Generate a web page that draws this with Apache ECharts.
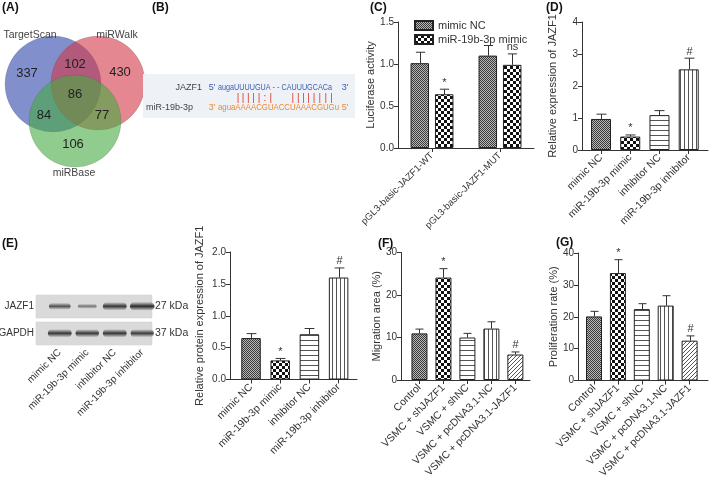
<!DOCTYPE html>
<html><head><meta charset="utf-8">
<script src="https://cdn.jsdelivr.net/npm/echarts@6/dist/echarts.min.js"></script>
<style>html,body{margin:0;padding:0;background:#fff}#c{width:709px;height:478px}</style>
</head><body><div id="c"></div><script>
// ---------------- DATA ----------------
const vennSets = ['TargetScan', 'miRWalk', 'miRBase'];
// order: TargetScan only, miRWalk only, miRBase only, T&W, T&B, W&B, all three
const vennCounts = [337, 430, 106, 102, 84, 77, 86];

const mrnaName = 'JAZF1';
const mirName = 'miR-19b-3p';
const mrnaSeq = ['a','u','g','a','U','U','U','U','G','U','A',' ','-',' ','-',' ','C','A','U','U','U','G','C','A','C','a'];
const mirSeq  = ['a','g','u','a','A','A','A','A','C','G','U','A','C','C','U','A','A','A','C','G','U','G','u'];
// pairing marks, aligned to miRNA positions
const pairMarks = [' ',' ',' ',' ','|','|','|','|','|',':','|',' ',' ',' ','|','|','|','|','|','|','|','|',' '];

const cGroups = ['pGL3-basic-JAZF1-WT', 'pGL3-basic-JAZF1-MUT'];
const cSeriesNames = ['mimic NC', 'miR-19b-3p mimic'];
const cTicks = [0, 0.5, 1.0, 1.5];
const cNC = [1.01, 1.10];
const cNCErr = [1.14, 1.22];
const cMimic = [0.64, 0.99];
const cMimicErr = [0.70, 1.12];
const cNCMarks = ['', ''];
const cMimicMarks = ['*', 'ns'];

const deCats = ['mimic NC', 'miR-19b-3p mimic', 'inhibitor NC', 'miR-19b-3p inhibitor'];
const dTicks = [0, 1, 2, 3, 4];
const dVals = [0.97, 0.42, 1.09, 2.52];
const dErr = [1.12, 0.47, 1.23, 2.87];
const dMarks = ['', '*', '', '#'];

const blotRows = ['JAZF1', 'GAPDH'];
const blotSizes = ['27 kDa', '37 kDa'];
const blotJazf1 = [0.62, 0.30, 0.85, 0.95];
const blotGapdh = [0.85, 0.82, 0.85, 0.80];

const eTicks = [0, 0.5, 1.0, 1.5, 2.0];
const eVals = [0.65, 0.30, 0.71, 1.60];
const eErr = [0.72, 0.33, 0.80, 1.75];
const eMarks = ['', '*', '', '#'];

const fgCats = ['Control', 'VSMC + shJAZF1', 'VSMC + shNC', 'VSMC + pcDNA3.1-NC', 'VSMC + pcDNA3.1-JAZF1'];
const fTicks = [0, 10, 20, 30];
const fVals = [10.97, 24.1, 10.0, 12.1, 6.0];
const fErr = [11.98, 26.2, 10.97, 13.7, 6.6];
const fMarks = ['', '*', '', '', '#'];

const gTicks = [0, 10, 20, 30, 40];
const gVals = [20.1, 33.7, 22.4, 23.5, 12.5];
const gErr = [21.7, 37.9, 24.1, 26.6, 14.0];
const gMarks = ['', '*', '', '', '#'];

// ---------------- STYLE HELPERS ----------------
const F = 'Liberation Sans, Arial, Helvetica, sans-serif';
const INK = '#333';

function pat(type) {
  const c = document.createElement('canvas');
  let w = 4, h = 4;
  if (type === 'hatch') { w = 2; h = 2; }
  if (type === 'check') { w = 6; h = 6; }
  if (type === 'hline') { w = 1; h = 5; }
  if (type === 'vline') { w = 4; h = 1; }
  if (type === 'diag') { w = 4; h = 4; }
  c.width = w; c.height = h;
  const x = c.getContext('2d');
  x.fillStyle = '#fff'; x.fillRect(0, 0, w, h);
  if (type === 'hatch') {
    x.fillStyle = '#b8b8b8'; x.fillRect(0, 0, 2, 2);
    x.fillStyle = '#3a3a3a'; x.fillRect(0, 0, 1, 1); x.fillRect(1, 1, 1, 1);
  } else if (type === 'check') {
    x.fillStyle = '#111'; x.fillRect(0, 0, 3, 3); x.fillRect(3, 3, 3, 3);
  } else if (type === 'hline') {
    x.fillStyle = '#555'; x.fillRect(0, 0, 1, 1);
  } else if (type === 'vline') {
    x.fillStyle = '#555'; x.fillRect(0, 0, 1, 1);
  } else if (type === 'diag') {
    x.fillStyle = '#555';
    x.fillRect(3, 0, 1, 1); x.fillRect(2, 1, 1, 1); x.fillRect(1, 2, 1, 1); x.fillRect(0, 3, 1, 1);
  }
  return { image: c, repeat: 'repeat' };
}
const P = { hatch: pat('hatch'), check: pat('check'), hline: pat('hline'), vline: pat('vline'), diag: pat('diag') };
const dePats = [P.hatch, P.check, P.hline, P.vline];
const fgPats = [P.hatch, P.check, P.hline, P.vline, P.diag];

function yAx(gi, ticks, name, gap, dec) {
  return {
    type: 'value', gridIndex: gi, min: ticks[0], max: ticks[ticks.length - 1], interval: ticks[1] - ticks[0],
    name: name, nameLocation: 'middle', nameGap: gap, nameRotate: 90,
    nameTextStyle: { fontSize: 11, color: INK, fontFamily: F },
    axisLine: { show: true, onZero: false, lineStyle: { color: INK, width: 1 } },
    axisTick: { show: true, length: 4, lineStyle: { color: INK } },
    axisLabel: { fontSize: 10, color: INK, margin: 4, fontFamily: F, formatter: v => v.toFixed(dec) },
    splitLine: { show: false }
  };
}
function xAxVal(gi, cats, min, max, fs) {
  const idx = cats.map((_, i) => i);
  return {
    type: 'value', gridIndex: gi, min: min, max: max,
    axisLine: { show: true, onZero: false, lineStyle: { color: INK, width: 1 } },
    axisTick: { show: true, length: 4, customValues: idx, lineStyle: { color: INK } },
    axisLabel: { customValues: idx, formatter: v => cats[Math.round(v)], rotate: 45, fontSize: fs, color: INK, margin: 6, fontFamily: F },
    splitLine: { show: false }
  };
}
function barSeries(gi, vals, pats, bw) {
  return {
    type: 'bar', xAxisIndex: gi, yAxisIndex: gi, barWidth: bw, z: 2,
    data: vals.map((v, i) => ({ value: [i, v], itemStyle: { color: pats[i] } })),
    itemStyle: { borderColor: '#222', borderWidth: 1 }
  };
}
function errSeries(gi, vals, errs, marks, bw, offset) {
  return {
    type: 'custom', xAxisIndex: gi, yAxisIndex: gi, z: 3, silent: true,
    data: vals.map((v, i) => [i, v, errs[i]]),
    renderItem: function (params, api) {
      const top = api.coord([api.value(0), api.value(1)]);
      const e = api.coord([api.value(0), api.value(2)]);
      const cx = Math.round(top[0] + offset) + 0.5;
      const cap = bw / 4;
      const ch = [
        { type: 'line', shape: { x1: cx, y1: top[1], x2: cx, y2: e[1] }, style: { stroke: INK, lineWidth: 1 } },
        { type: 'line', shape: { x1: cx - cap, y1: e[1], x2: cx + cap, y2: e[1] }, style: { stroke: INK, lineWidth: 1 } }
      ];
      const m = marks[params.dataIndex];
      if (m) ch.push({ type: 'text', style: { text: m, x: cx, y: e[1] - 1, align: 'center', verticalAlign: 'bottom', font: '11px ' + F, fill: INK } });
      return { type: 'group', children: ch };
    }
  };
}

// ---------------- GRAPHIC (Venn, sequence, blot boxes, panel labels) ----------------
const graphics = [];
function txt(x, y, s, size, opt, extra) {
  graphics.push(Object.assign({ type: 'text', x: x, y: y, style: Object.assign({ text: s, font: size + 'px ' + F, fill: INK, align: 'left', verticalAlign: 'middle' }, opt || {}) }, extra || {}));
}
// Panel letters
[['(A)', 2, 8], ['(B)', 152, 8], ['(C)', 370, 8], ['(D)', 546, 8], ['(E)', 2, 244], ['(F)', 378, 244], ['(G)', 556, 243]]
  .forEach(p => txt(p[1], p[2], p[0], 12, { font: 'bold 12px ' + F, fill: '#111' }));

// Venn
const vennGeo = [
  { cx: 53, cy: 84, r: 48, fill: 'rgba(45,70,170,0.60)' },
  { cx: 98, cy: 83, r: 47, fill: 'rgba(210,55,70,0.60)' },
  { cx: 75, cy: 121, r: 46, fill: 'rgba(70,170,65,0.60)' }
];
vennGeo.forEach(g => graphics.push({ type: 'circle', shape: { cx: g.cx, cy: g.cy, r: g.r }, style: { fill: g.fill, stroke: 'rgba(60,60,60,0.25)', lineWidth: 0.6 } }));
const vennPos = [[27, 73], [120, 72], [73, 144], [75, 64], [44, 115], [102, 115], [75, 94]];
vennCounts.forEach((v, i) => txt(vennPos[i][0], vennPos[i][1], String(v), 13, { align: 'center', fill: '#222' }));
const vennLabPos = [[30, 35], [117, 35], [74, 173]];
vennSets.forEach((s, i) => txt(vennLabPos[i][0], vennLabPos[i][1], s, 10.5, { align: 'center', fill: '#444' }));

// Sequence panel (B)
graphics.push({ type: 'rect', shape: { x: 143, y: 74, width: 212, height: 44 }, style: { fill: '#eef1f5' } });
txt(202, 88, mrnaName, 9, { align: 'right', fill: '#444' });
txt(193, 108, mirName, 9, { align: 'right', fill: '#444' });
txt(212, 88, "5'", 9, { align: 'center', fill: '#3b5fb3' });
txt(212, 108, "3'", 9, { align: 'center', fill: '#ee8a2b' });
const mctx = document.createElement('canvas').getContext('2d');
function layoutLine(chars, size, x0, targetW) {
  mctx.font = size + 'px Liberation Sans';
  const widths = chars.map(c => mctx.measureText(c).width);
  const total = widths.reduce((a, b) => a + b, 0);
  const k = targetW / total;
  let x = x0; const centers = [];
  widths.forEach(w => { centers.push(x + w * k / 2); x += w * k; });
  return { k: k, centers: centers };
}
const SEQ_FS = 9;
const topL = layoutLine(mrnaSeq, SEQ_FS, 218, 114);
const botL = layoutLine(mirSeq, SEQ_FS, 218, 121);
mrnaSeq.forEach((ch, i) => { if (ch !== ' ') txt(topL.centers[i], 88, ch, SEQ_FS, { align: 'center', fill: '#3b5fb3' }, { scaleX: topL.k }); });
mirSeq.forEach((ch, i) => txt(botL.centers[i], 108, ch, SEQ_FS, { align: 'center', fill: '#ee8a2b' }, { scaleX: botL.k }));
pairMarks.forEach((ch, i) => { if (ch !== ' ') txt(botL.centers[i], 98, ch, 10, { align: 'center', fill: '#e03a2f' }); });
txt(345, 88, "3'", 9, { align: 'center', fill: '#3b5fb3' });
txt(345, 108, "5'", 9, { align: 'center', fill: '#ee8a2b' });

// Blot boxes for E
graphics.push({ type: 'rect', shape: { x: 36, y: 295, width: 116, height: 23 }, style: { fill: '#dadada', stroke: '#cccccc', lineWidth: 0.5 } });
graphics.push({ type: 'rect', shape: { x: 36, y: 322, width: 116, height: 23 }, style: { fill: '#dadada', stroke: '#cccccc', lineWidth: 0.5 } });
blotRows.forEach((s, i) => txt(34, 306.5 + i * 27, s, 10, { align: 'right' }));
blotSizes.forEach((s, i) => txt(155, 306.5 + i * 27, s, 10.5, { align: 'left' }));

// ---------------- OPTION ----------------
const option = {
  animation: false,
  backgroundColor: '#fff',
  textStyle: { fontFamily: F },
  grid: [
    { left: 398, top: 22, width: 136, height: 126, outerBoundsMode: 'none' },   // 0: C
    { left: 582, top: 22, width: 126, height: 128, outerBoundsMode: 'none' },   // 1: D
    { left: 230, top: 252, width: 127, height: 127.5, outerBoundsMode: 'none' },// 2: E bars
    { left: 401, top: 252.5, width: 129, height: 127.5, outerBoundsMode: 'none' }, // 3: F
    { left: 578, top: 253, width: 130, height: 127.5, outerBoundsMode: 'none' },  // 4: G
    { left: 46, top: 295, width: 110, height: 50, outerBoundsMode: 'none' }     // 5: blot
  ],
  legend: {
    data: cSeriesNames, left: 409, top: 15, orient: 'vertical', itemWidth: 18, itemGap: 3, itemHeight: 9,
    icon: 'rect', textStyle: { fontSize: 11, color: INK, fontFamily: F }, selectedMode: false
  },
  xAxis: [
    {
      type: 'category', gridIndex: 0, data: cGroups,
      axisLine: { show: true, lineStyle: { color: INK } },
      axisTick: { show: true, alignWithLabel: true, length: 4, lineStyle: { color: INK } },
      axisLabel: { rotate: 45, fontSize: 9.5, color: INK, margin: 6, fontFamily: F, interval: 0 }
    },
    xAxVal(1, deCats, -0.65, 3.66, 10.5),
    xAxVal(2, deCats, -0.72, 3.63, 10.5),
    xAxVal(3, fgCats, -0.77, 4.61, 10.5),
    xAxVal(4, fgCats, -0.67, 4.77, 10.5),
    {
      type: 'category', gridIndex: 5, data: deCats,
      axisLine: { show: false }, axisTick: { show: false },
      axisLabel: { rotate: 45, fontSize: 10, color: INK, margin: 6, fontFamily: F, interval: 0 }
    }
  ],
  yAxis: [
    yAx(0, cTicks, 'Luciferase activity', 15, 1),
    yAx(1, dTicks, 'Relative expression of JAZF1', 24, 0),
    yAx(2, eTicks, 'Relative protein expression of JAZF1', 25, 1),
    yAx(3, fTicks, 'Migration area (%)', 17, 0),
    yAx(4, gTicks, 'Proliferation rate (%)', 18, 0),
    { type: 'value', gridIndex: 5, min: 0, max: 2, show: false }
  ],
  series: [
    {
      name: cSeriesNames[0], type: 'bar', xAxisIndex: 0, yAxisIndex: 0, barWidth: 18.5, barGap: '32%',
      data: cNC, itemStyle: { color: P.hatch, borderColor: '#222', borderWidth: 1 }
    },
    {
      name: cSeriesNames[1], type: 'bar', xAxisIndex: 0, yAxisIndex: 0, barWidth: 18.5, barGap: '32%',
      data: cMimic, itemStyle: { color: P.check, borderColor: '#222', borderWidth: 1 }
    },
    errSeries(0, cNC, cNCErr, cNCMarks, 18.5, -12.25),
    errSeries(0, cMimic, cMimicErr, cMimicMarks, 18.5, 12.25),
    barSeries(1, dVals, dePats, 20), errSeries(1, dVals, dErr, dMarks, 20, 0),
    barSeries(2, eVals, dePats, 19.5), errSeries(2, eVals, eErr, eMarks, 19.5, 0),
    barSeries(3, fVals, fgPats, 16), errSeries(3, fVals, fErr, fMarks, 16, 0),
    barSeries(4, gVals, fgPats, 16), errSeries(4, gVals, gErr, gMarks, 16, 0),
    {
      type: 'custom', xAxisIndex: 5, yAxisIndex: 5, z: 3, silent: true,
      data: blotJazf1.map((v, i) => [i, v, blotGapdh[i]]),
      renderItem: function (params, api) {
        const x = api.coord([api.value(0), 0])[0];
        const band = (cy, s) => {
          const w = 16 + 9 * s, h = 3 + 6 * s;
          return {
            type: 'rect',
            shape: { x: x - w / 2, y: cy - h / 2, width: w, height: h, r: h / 2 },
            style: {
              fill: {
                type: 'linear', x: 0, y: 0, x2: 0, y2: 1, colorStops: [
                  { offset: 0, color: 'rgba(40,40,40,0.05)' },
                  { offset: 0.5, color: 'rgba(25,25,25,' + (0.35 + 0.6 * s) + ')' },
                  { offset: 1, color: 'rgba(40,40,40,0.05)' }
                ]
              }
            }
          };
        };
        return { type: 'group', children: [band(api.coord([0, 1.55])[1], api.value(1)), band(api.coord([0, 0.47])[1], api.value(2))] };
      }
    }
  ],
  graphic: { elements: graphics }
};
const chart = echarts.init(document.getElementById('c'));
chart.setOption(option);
</script></body></html>
